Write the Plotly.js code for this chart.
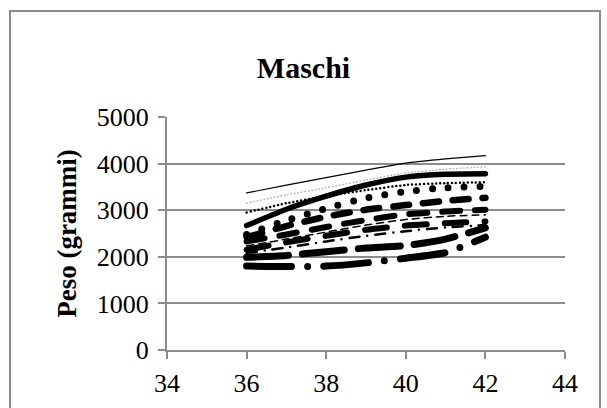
<!DOCTYPE html>
<html>
<head>
<meta charset="utf-8">
<script src="https://cdn.plot.ly/plotly-3.0.1.min.js"></script>
<style>
  html, body { margin: 0; padding: 0; background: #fff; }
  #wrap { position: relative; width: 607px; height: 408px; overflow: hidden; }
  #chart { width: 607px; height: 408px; }
  #frame { position: absolute; left: 9px; top: 10px; width: 588px; height: 420px;
           border: 2px solid #8c8c8c; pointer-events: none; }
  .scatterlayer .js-line { stroke-linecap: round !important; }
</style>
</head>
<body>
<div id="wrap">
  <div id="chart"></div>
  <div id="frame"></div>
</div>
<script>
// Gestational weeks
const weeks = [36, 37, 38, 39, 40, 41, 42];

// Weight curves (grams), top to bottom
const curve1  = [3370, 3540, 3700, 3860, 4010, 4100, 4170];
const curve2  = [3150, 3330, 3480, 3650, 3800, 3880, 3930];
const curve3  = [2670, 3020, 3300, 3540, 3710, 3770, 3780];
const curve4  = [2950, 3150, 3300, 3430, 3540, 3580, 3600];
const curve5  = [2480, 2780, 3040, 3260, 3400, 3480, 3510];
const curve6  = [2420, 2660, 2860, 3010, 3110, 3200, 3265];
const curve7  = [2330, 2480, 2640, 2790, 2910, 2970, 3010];
const curve8  = [2230, 2380, 2530, 2680, 2800, 2870, 2900];
const curve9  = [2150, 2310, 2450, 2580, 2670, 2720, 2760];
const curve10 = [2080, 2200, 2330, 2450, 2550, 2630, 2680];
const curve11 = [1990, 2030, 2110, 2190, 2240, 2380, 2620];
const curve12 = [1800, 1790, 1800, 1870, 1970, 2090, 2420];

const xTicks = [34, 36, 38, 40, 42, 44];
const yTicks = [0, 1000, 2000, 3000, 4000, 5000];

const curves = [curve1, curve2, curve3, curve4, curve5, curve6,
                curve7, curve8, curve9, curve10, curve11, curve12];
const styles = [
  {width: 1.2, color: '#000', dash: 'solid'},
  {width: 1.5, color: '#b5b5b5', dash: '0.5px,3px'},
  {width: 5.5, color: '#000', dash: 'solid'},
  {width: 2.5, color: '#000', dash: '0px,4px'},
  {width: 7,   color: '#000', dash: '0px,16px'},
  {width: 6.5, color: '#000', dash: '16px,14px'},
  {width: 6,   color: '#000', dash: '18px,15px'},
  {width: 1.5, color: '#000', dash: '7px,5px'},
  {width: 6,   color: '#000', dash: '22px,18px'},
  {width: 2.5, color: '#000', dash: '10px,8px,0px,8px'},
  {width: 7,   color: '#000', dash: '42px,14px'},
  {width: 7,   color: '#000', dash: '45px,16px,0px,16px'}
];

const traces = curves.map((c, i) => ({
  x: weeks, y: c, type: 'scatter', mode: 'lines',
  line: {color: styles[i].color, width: styles[i].width, dash: styles[i].dash,
         shape: 'spline', smoothing: 0.6},
  showlegend: false, hoverinfo: 'skip'
}));

const serif = 'Liberation Serif, Times New Roman, serif';

const layout = {
  width: 607, height: 408,
  margin: {l: 167, r: 42, t: 117, b: 58},
  paper_bgcolor: '#fff', plot_bgcolor: '#fff',
  title: {text: '<b>Maschi</b>', font: {family: serif, size: 30, color: '#000'},
          x: 0.5, xref: 'container', y: 0.835, yref: 'container', yanchor: 'middle'},
  xaxis: {
    range: [34, 44], tickvals: xTicks, ticktext: xTicks.map(String),
    showgrid: false, zeroline: false, showline: true, linecolor: '#8c8c8c', linewidth: 2,
    ticks: 'outside', ticklen: 7, tickwidth: 2, tickcolor: '#8c8c8c',
    tickfont: {family: serif, size: 26, color: '#000'}, ticklabelstandoff: 2
  },
  yaxis: {
    range: [0, 5000], tickvals: yTicks, ticktext: yTicks.map(String),
    showgrid: true, gridcolor: '#8c8c8c', gridwidth: 2,
    zeroline: false, showline: true, linecolor: '#8c8c8c', linewidth: 2,
    ticks: 'outside', ticklen: 7, tickwidth: 2, tickcolor: '#8c8c8c',
    tickfont: {family: serif, size: 26, color: '#000'}, ticklabelstandoff: 4,
    title: {text: '<b>Peso (grammi)</b>', font: {family: serif, size: 27, color: '#000'}, standoff: 12}
  }
};

Plotly.newPlot('chart', traces, layout, {staticPlot: true, displayModeBar: false});
</script>
</body>
</html>
